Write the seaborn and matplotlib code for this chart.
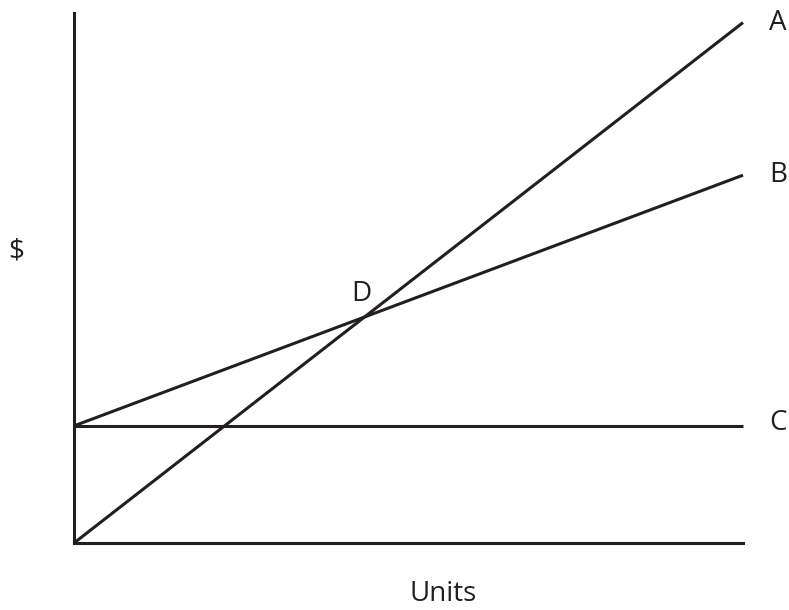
import matplotlib
matplotlib.use("Agg")
import matplotlib.pyplot as plt
import seaborn as sns
import pandas as pd

# Data
units = [0, 100]
line_a = [0, 98.2]      # total revenue
line_b = [22.1, 69.4]   # total cost
line_c = [22.1, 22.1]   # fixed cost
labels = ["A", "B", "C"]
d_point = (43.0, 47.0)

sns.set_style("white")
plt.rcParams['font.family'] = ['Open Sans', 'DejaVu Sans']

INK = "#231f20"
fig = plt.figure(figsize=(7.89, 6.10), dpi=100)
ax = fig.add_axes([74/789, (610-543)/610, 669/789, 530/610])

df = pd.DataFrame({"units": units * 3,
                   "value": line_a + line_b + line_c,
                   "line": ["A"] * 2 + ["B"] * 2 + ["C"] * 2})
sns.lineplot(data=df, x="units", y="value", units="line", estimator=None,
             color=INK, linewidth=2.2, ax=ax, legend=False)
for l in ax.lines:
    l.set_clip_on(False)
    l.set_solid_capstyle("butt")

ax.set_xlim(0, 100)
ax.set_ylim(0, 100)
ax.set_xticks([])
ax.set_yticks([])
ax.set_xlabel("")
ax.set_ylabel("")
for s in ["top", "right"]:
    ax.spines[s].set_visible(False)
for s in ["left", "bottom"]:
    ax.spines[s].set_color(INK)
    ax.spines[s].set_linewidth(2.2)

ends = [line_a[-1], line_b[-1], line_c[-1] + 0.5]
for lab, yv in zip(labels, ends):
    ax.text(105.2, yv, lab, ha="center", va="center", fontsize=20, color=INK,
            clip_on=False)
ax.text(d_point[0], d_point[1], "D", ha="center", va="center", fontsize=20,
        color=INK)

fig.text(16/789, 1 - 252/610, "$", ha="center", va="center", fontsize=20,
         color=INK)
fig.text(443/789, 1 - 594/610, "Units", ha="center", va="center", fontsize=20,
         color=INK)

fig.savefig("out.png", dpi=100, facecolor="white")
